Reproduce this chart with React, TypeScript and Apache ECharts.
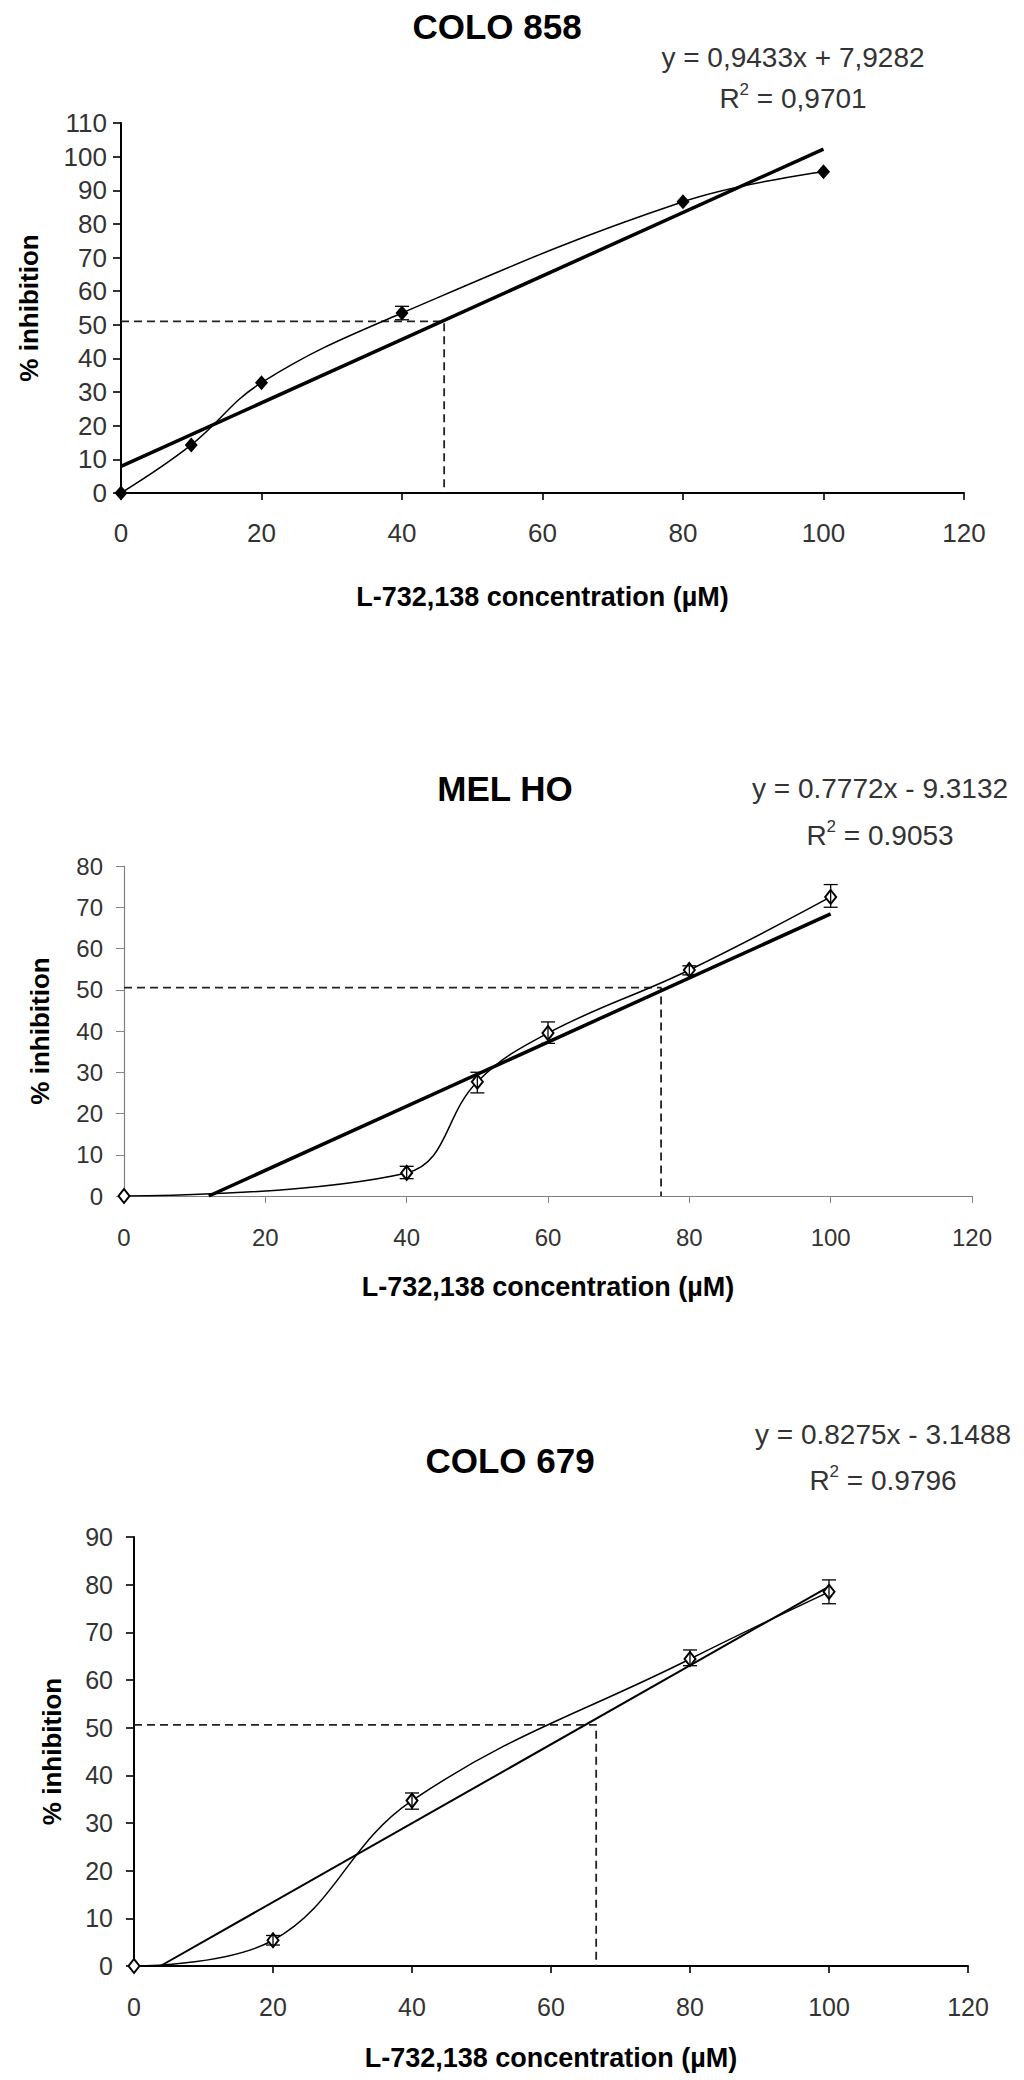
import React, { useEffect, useRef } from "react";
import * as echarts from "echarts";

// ---------- data ----------
const titles = ["COLO 858", "MEL HO", "COLO 679"];
const equations = ["y = 0,9433x + 7,9282", "y = 0.7772x - 9.3132", "y = 0.8275x - 3.1488"];
const r2Values = ["0,9701", "0.9053", "0.9796"];
const xAxisName = "L-732,138 concentration (µM)";
const yAxisName = "% inhibition";
const yMaxes = [110, 80, 90];

// COLO 858
const conc1 = [0, 10, 20, 40, 80, 100];
const inhib1 = [0, 14.3, 32.8, 53.5, 86.6, 95.5];
const err1 = [[40, 51.5, 55.5]];
const trend1 = [[0, 7.93], [100, 102.26]];
const ic50Line1 = [[0, 51], [46, 51], [46, 0]];

// MEL HO
const conc2 = [0, 40, 50, 60, 80, 100];
const inhib2 = [0, 5.6, 27.7, 39.5, 54.8, 72.5];
const err2 = [[40, 4.2, 7.2], [50, 25, 30], [60, 37, 42.2], [80, 53.6, 55.8], [100, 70, 75.5]];
const trend2 = [[12, 0], [100, 68.41]];
const ic50Line2 = [[0, 50.5], [76, 50.5], [76, 0]];

// COLO 679
const conc3 = [0, 20, 40, 80, 100];
const inhib3 = [0, 5.4, 34.7, 64.4, 78.5];
const err3 = [[20, 4.4, 6.4], [40, 32.9, 36.3], [80, 63, 66.3], [100, 76, 81]];
const trend3 = [[3.8, 0], [100, 79.6]];
const ic50Line3 = [[0, 50.6], [66.5, 50.6], [66.5, 0]];

const concs = [conc1, conc2, conc3];
const inhibs = [inhib1, inhib2, inhib3];
const errs = [err1, err2, err3];
const trends = [trend1, trend2, trend3];
const ic50s = [ic50Line1, ic50Line2, ic50Line3];

// ---------- layout / style ----------
const FONT = '"Liberation Sans", Arial, Helvetica, sans-serif';
const grids = [
  { left: 121, top: 123, width: 843, height: 370 },
  { left: 124, top: 866, width: 848, height: 330 },
  { left: 134, top: 1537, width: 834, height: 429 },
];
const axisColors = ["#000", "#808080", "#000"];
const axisWidths = [2, 1.2, 2];
const labelSizes = [26, 24, 25];
const yLabelMargins = [14, 21, 21];
const xLabelMargins = [27, 29, 28];
const xNameGaps = [90, 77, 78];
const yNameGaps = [79, 71, 69];
const trendWidths = [3.5, 3.5, 2];
const titlePos = [
  [497, 26],
  [505, 788],
  [510, 1460],
];
const eqPos = [
  [793, 57, 98],
  [880, 788, 835],
  [883, 1434, 1480],
];

const errorRender = (params: any, api: any) => {
  const x = api.value(0);
  const lo = api.coord([x, api.value(1)]);
  const hi = api.coord([x, api.value(2)]);
  const st = { stroke: "#000", lineWidth: 1.3, fill: null };
  const c = 7;
  return {
    type: "group",
    children: [
      { type: "line", shape: { x1: lo[0], y1: lo[1], x2: hi[0], y2: hi[1] }, style: st },
      { type: "line", shape: { x1: hi[0] - c, y1: hi[1], x2: hi[0] + c, y2: hi[1] }, style: st },
      { type: "line", shape: { x1: lo[0] - c, y1: lo[1], x2: lo[0] + c, y2: lo[1] }, style: st },
    ],
  };
};

function buildOption() {
  const grid: any[] = [];
  const xAxis: any[] = [];
  const yAxis: any[] = [];
  const series: any[] = [];
  const graphic: any[] = [];

  for (let i = 0; i < 3; i++) {
    grid.push({ ...grids[i], containLabel: false, outerBoundsMode: "none" });
    const axisLine = { show: true, onZero: false, lineStyle: { color: axisColors[i], width: axisWidths[i] } };
    const axisTick = { show: true, length: 8, lineStyle: { color: axisColors[i], width: axisWidths[i] * 0.8 } };
    xAxis.push({
      gridIndex: i,
      type: "value",
      min: 0,
      max: 120,
      interval: 20,
      axisLine,
      axisTick: { ...axisTick, length: 7 },
      splitLine: { show: false },
      axisLabel: { color: "#333", fontSize: labelSizes[i], fontFamily: FONT, margin: xLabelMargins[i] },
      name: xAxisName,
      nameLocation: "middle",
      nameGap: xNameGaps[i],
      nameTextStyle: { color: "#000", fontSize: 27, fontWeight: "bold", fontFamily: FONT },
    });
    yAxis.push({
      gridIndex: i,
      type: "value",
      min: 0,
      max: yMaxes[i],
      interval: 10,
      axisLine,
      axisTick,
      splitLine: { show: false },
      axisLabel: { color: "#333", fontSize: labelSizes[i], fontFamily: FONT, margin: yLabelMargins[i] },
      name: yAxisName,
      nameLocation: "middle",
      nameGap: yNameGaps[i],
      nameTextStyle: { color: "#000", fontSize: 26, fontWeight: "bold", fontFamily: FONT },
    });

    // IC50 dashed guide
    series.push({
      type: "line",
      xAxisIndex: i,
      yAxisIndex: i,
      data: ic50s[i],
      symbol: "none",
      silent: true,
      z: 1,
      lineStyle: { color: "#222", width: 1.8, type: [8, 5] },
    });
    // linear trendline
    series.push({
      type: "line",
      xAxisIndex: i,
      yAxisIndex: i,
      data: trends[i],
      symbol: "none",
      silent: true,
      z: 2,
      lineStyle: { color: "#000", width: trendWidths[i] },
    });
    // measured curve
    series.push({
      type: "line",
      xAxisIndex: i,
      yAxisIndex: i,
      data: concs[i].map((x, k) => [x, inhibs[i][k]]),
      smooth: 0.4,
      symbol: i === 0 ? "diamond" : "emptyDiamond",
      symbolSize: i === 0 ? [13, 15] : [11, 14],
      showSymbol: true,
      z: 3,
      lineStyle: { color: "#000", width: 1.5 },
      itemStyle: { color: "#000", borderColor: "#000", borderWidth: i === 0 ? 0 : 1.5 },
    });
    // error bars
    series.push({
      type: "custom",
      xAxisIndex: i,
      yAxisIndex: i,
      data: errs[i],
      encode: { x: 0, y: [1, 2] },
      renderItem: errorRender,
      silent: true,
      z: 4,
    });

    graphic.push({
      type: "text",
      x: titlePos[i][0],
      y: titlePos[i][1],
      style: {
        text: titles[i],
        fill: "#000",
        font: `bold 35px ${FONT}`,
        align: "center",
        verticalAlign: "middle",
      },
    });
    graphic.push({
      type: "text",
      x: eqPos[i][0],
      y: eqPos[i][1],
      style: {
        text: equations[i],
        fill: "#333",
        font: `28px ${FONT}`,
        align: "center",
        verticalAlign: "middle",
      },
    });
    graphic.push({
      type: "text",
      x: eqPos[i][0],
      y: eqPos[i][2],
      style: {
        text: "R{sup|2} = " + r2Values[i],
        fill: "#333",
        fontSize: 28,
        fontFamily: FONT,
        align: "center",
        verticalAlign: "middle",
        lineHeight: 34,
        rich: {
          sup: { fontSize: 17, fontFamily: FONT, fill: "#333", verticalAlign: "top", lineHeight: 34 },
        },
      },
    });
  }

  return {
    animation: false,
    backgroundColor: "#fff",
    textStyle: { fontFamily: FONT },
    grid,
    xAxis,
    yAxis,
    series,
    graphic,
  };
}

export default function App() {
  const ref = useRef<HTMLDivElement>(null);
  useEffect(() => {
    if (!ref.current) return;
    const chart = echarts.init(ref.current, undefined, { renderer: "svg" });
    chart.setOption(buildOption() as any);
    return () => chart.dispose();
  }, []);
  return (
    <div
      ref={ref}
      style={{ position: "absolute", left: 0, top: 0, width: 1024, height: 2080, background: "#fff" }}
    />
  );
}
